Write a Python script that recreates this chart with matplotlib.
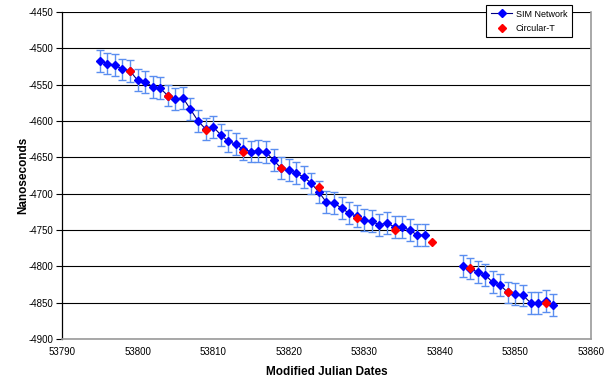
import numpy as np
import matplotlib
matplotlib.use("Agg")
import matplotlib.pyplot as plt
from matplotlib.lines import Line2D

# ---- data ----
sim_mjd = [53795, 53796, 53797, 53798, 53799, 53800, 53801, 53802, 53803, 53804,
           53805, 53806, 53807, 53808, 53809, 53810, 53811, 53812, 53813, 53814,
           53815, 53816, 53817, 53818, 53819, 53820, 53821, 53822, 53823, 53824,
           53825, 53826, 53827, 53828, 53829, 53830, 53831, 53832, 53833, 53834,
           53835, 53836, 53837, 53838,
           53843, 53844, 53845, 53846, 53847, 53848, 53849, 53850, 53851, 53852,
           53853, 53854, 53855]
sim_ns = [-4517, -4521, -4523, -4529, -4531, -4544, -4546, -4553, -4555, -4565,
          -4570, -4568, -4584, -4600, -4611, -4608, -4619, -4628, -4632, -4639,
          -4642, -4641, -4643, -4654, -4665, -4667, -4672, -4677, -4686, -4698,
          -4712, -4713, -4720, -4727, -4731, -4736, -4738, -4743, -4740, -4746,
          -4746, -4750, -4757, -4757,
          -4800, -4803, -4808, -4812, -4822, -4826, -4836, -4838, -4840, -4850,
          -4850, -4848, -4853]
sim_err = 15

circt_mjd = [53799, 53804, 53809, 53814, 53819, 53824, 53829, 53834, 53839,
             53844, 53849, 53854]
circt_ns = [-4531, -4565, -4612, -4642, -4665, -4691, -4733, -4750, -4766,
            -4802, -4836, -4850]

x_ticks = [53790, 53800, 53810, 53820, 53830, 53840, 53850, 53860]
y_ticks = [-4900, -4850, -4800, -4750, -4700, -4650, -4600, -4550, -4500, -4450]

plt.rcParams['font.family'] = ['Liberation Sans', 'DejaVu Sans']

fig = plt.figure(figsize=(6.06, 3.81), dpi=100)
ax = fig.add_axes([62/606, 1-339/381, (591-62)/606, (339-12)/381])

xa = np.array(sim_mjd)
ya = np.array(sim_ns)

ax.errorbar(xa, ya, yerr=sim_err, fmt='none', ecolor='#5a8ef0', elinewidth=1.0,
            capsize=3, capthick=1.0, zorder=2)

# split blue series at the data gap
breaks = np.where(np.diff(xa) > 1)[0] + 1
for seg_x, seg_y in zip(np.split(xa, breaks), np.split(ya, breaks)):
    ax.plot(seg_x, seg_y, color='#000080', lw=0.8, zorder=3)
ax.plot(xa, ya, ls='none', marker='D', ms=4.3, color='#0000ff', mec='#0000ff', zorder=4)
ax.plot(circt_mjd, circt_ns, ls='none', marker='D', ms=4.3, color='#ff0000', mec='#ff0000', zorder=5)

ax.set_xlim(53790, 53860)
ax.set_ylim(-4900, -4450)
ax.set_xticks(x_ticks)
ax.set_yticks(y_ticks)
ax.set_xticklabels([str(v) for v in x_ticks], fontsize=7)
ax.set_yticklabels([str(v) for v in y_ticks], fontsize=7)
ax.tick_params(axis='x', length=0, pad=6)
ax.tick_params(axis='y', length=4, width=0.8, direction='out', pad=2)

ax.grid(axis='y', color='black', lw=0.8)
ax.set_axisbelow(True)
ax.spines['top'].set_visible(False)
ax.spines['left'].set_color('black')
ax.spines['left'].set_linewidth(0.9)
ax.spines['right'].set_color('#9a9a9a')
ax.spines['bottom'].set_color('#9a9a9a')
ax.spines['right'].set_linewidth(1.2)
ax.spines['bottom'].set_linewidth(1.2)

ax.set_xlabel('Modified Julian Dates', fontsize=8.5, fontweight='bold', labelpad=6)
ax.set_ylabel('Nanoseconds', fontsize=8.5, fontweight='bold', labelpad=0)

handles = [Line2D([0], [0], color='#000080', lw=0.8, marker='D', ms=3.8,
                  mfc='#0000ff', mec='#0000ff'),
           Line2D([0], [0], ls='none', marker='D', ms=3.8, color='#ff0000')]
leg = fig.legend(handles, ['SIM Network', 'Circular-T'], fontsize=6.5,
                 loc='upper right', bbox_to_anchor=(572/606, 1-5/381),
                 borderaxespad=0,
                 frameon=True, fancybox=False, framealpha=1, edgecolor='black',
                 borderpad=0.5, handlelength=2.4, handletextpad=0.4, labelspacing=0.6)
leg.get_frame().set_linewidth(0.8)

fig.savefig('out.png', dpi=100)
